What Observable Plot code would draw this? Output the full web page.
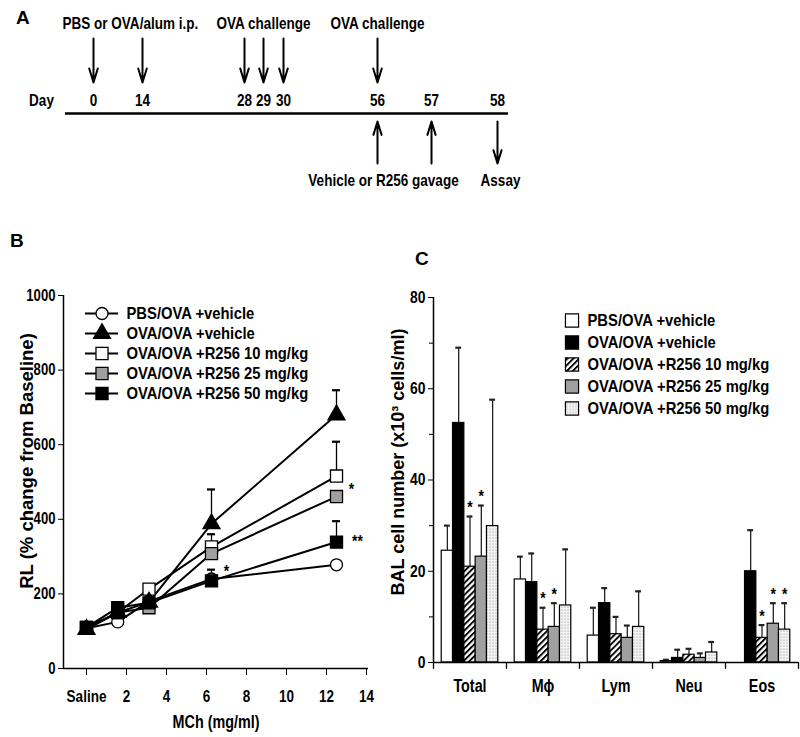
<!DOCTYPE html>
<html><head><meta charset="utf-8">
<script src="https://cdn.jsdelivr.net/npm/d3@7"></script>
<script src="https://cdn.jsdelivr.net/npm/@observablehq/plot@0.6"></script>
<style>
html,body{margin:0;padding:0;background:#fff;}
#fig{position:relative;width:800px;height:737px;overflow:hidden;background:#fff;}
#fig svg{position:absolute;overflow:visible;}
.plab{position:absolute;font:bold 19px "Liberation Sans",Arial,sans-serif;line-height:19px;color:#000;}
</style></head><body>
<div id="fig">
<div class="plab" style="left:16px;top:8px">A</div>
<div class="plab" style="left:10px;top:231px">B</div>
<div class="plab" style="left:415px;top:249px">C</div>
</div>
<script>
// ---------------- data ----------------
// Panel A: protocol timeline
const timelineDays = [0, 14, 28, 29, 30, 56, 57, 58];
const dayLabels = ["0", "14", "28", "29", "30", "56", "57", "58"];
const injectionDays = [0, 14, 28, 29, 30, 56];
const gavageDays = [56, 57];
const assayDays = [58];
const topNotes = ["PBS or OVA/alum i.p.", "OVA challenge", "OVA challenge"];
const topNoteDays = [0, 29, 56];
const bottomNotes = ["Vehicle or R256 gavage", "Assay"];
const bottomNoteDays = [56, 58];

// Panel B: lung resistance vs methacholine
const groups = ["PBS/OVA +vehicle", "OVA/OVA +vehicle", "OVA/OVA +R256 10 mg/kg", "OVA/OVA +R256 25 mg/kg", "OVA/OVA +R256 50 mg/kg"];
const mchDoses = [0, 1.5625, 3.125, 6.25, 12.5];
const mchTicks = [0, 2, 4, 6, 8, 10, 12, 14];
const rlTicks = [0, 200, 400, 600, 800, 1000];
const rlPBS = [108, 125, 180, 240, 278];
const rlOVA = [105, 150, 178, 388, 680];
const rlR10 = [110, 150, 213, 326, 516];
const rlR25 = [108, 150, 163, 308, 461];
const rlR50 = [110, 163, 176, 235, 339];
const semPBS = [0, 0, 0, 0, 0];
const semOVA = [0, 0, 0, 92, 66];
const semR10 = [0, 0, 0, 34, 92];
const semR25 = [0, 0, 0, 20, 0];
const semR50 = [0, 0, 0, 30, 56];
const starsBDose = [6.25, 12.5];
const starsBValue = [271, 490];
const doubleStarDose = [12.5];
const doubleStarValue = [351];

// Panel C: BAL cell counts
const cellTypes = ["Total", "M\u03d5", "Lym", "Neu", "Eos"];
const balTicks = [0, 20, 40, 60, 80];
const balMinorTicks = [10, 30, 50, 70];
const balPBS = [24.5, 18.2, 5.9, 0.3, 0];
const balOVA = [52.5, 17.6, 13.0, 1.0, 20.0];
const balR10 = [21.0, 7.2, 6.2, 1.7, 5.4];
const balR25 = [23.2, 7.8, 5.4, 1.0, 8.5];
const balR50 = [29.9, 12.5, 7.8, 2.2, 7.2];
const errPBS = [5.5, 5.0, 6.1, 0.3, 0];
const errOVA = [16.5, 6.3, 3.3, 1.8, 9.0];
const errR10 = [11.0, 4.8, 3.8, 1.3, 2.8];
const errR25 = [11.2, 5.2, 2.7, 1.0, 4.5];
const errR50 = [27.7, 12.3, 7.8, 2.3, 5.8];
// significant bars: [cell type index, group index]
const starsC = [[0, 2], [0, 3], [1, 2], [1, 3], [4, 2], [4, 3], [4, 4]];

// ---------------- styles ----------------
const NARROW = '"Liberation Sans",Arial,sans-serif';
const REG = '"Liberation Sans", Arial, sans-serif';
const GRAY = "#a0a0a0";
const fig = document.getElementById("fig");
// emulate a narrow bold face: squeeze every text horizontally about its anchor
function condense(svg, k) {
  svg.querySelectorAll("text").forEach(t => {
    const g = t.closest("[font-family]");
    if (g && g.getAttribute("font-family") === REG) return;
    const x = +t.getAttribute("x") || 0;
    const tr = t.getAttribute("transform") || "";
    t.setAttribute("transform", `${tr} translate(${x},0) scale(${k},1) translate(${-x},0)`);
  });
}
function place(node, left, top, k = 0.82) {
  node.style.left = left + "px";
  node.style.top = top + "px";
  fig.appendChild(node);
  condense(node, k);
  return node;
}
const baseStyle = {fontFamily: NARROW, fontWeight: "bold", color: "black", background: "transparent", overflow: "visible"};

// ---------------- Panel A ----------------
const dayPosition = d3.scaleLinear().domain(timelineDays).range([93, 142, 244, 263, 283, 377, 431, 497]);
const arrowOpts = {strokeWidth: 2, headLength: 11, headAngle: 34};
const plotA = Plot.plot({
  width: 800, height: 200,
  marginLeft: 65, marginRight: 292, marginTop: 0, marginBottom: 0,
  x: {transform: dayPosition, domain: [0, 800], range: [0, 800], axis: null},
  y: {domain: [0, 200], range: [0, 200], axis: null},
  style: {...baseStyle, fontSize: "16.5px"},
  marks: [
    Plot.ruleY([113], {strokeWidth: 2.6}),
    Plot.arrow(injectionDays, {x1: d => d, x2: d => d, y1: 38, y2: 82, ...arrowOpts}),
    Plot.arrow(gavageDays, {x1: d => d, x2: d => d, y1: 163, y2: 121, ...arrowOpts}),
    Plot.arrow(assayDays, {x1: d => d, x2: d => d, y1: 121, y2: 163, ...arrowOpts}),
    Plot.text(timelineDays, {x: d => d, y: 100, text: (d, i) => dayLabels[i], fontSize: 16.5}),
    Plot.text(["Day"], {frameAnchor: "left", y: 100, dx: -24, textAnchor: "middle", text: d => d, fontSize: 16.5}),
    Plot.text(topNotes.slice(0, 1), {x: topNoteDays[0], y: 23, text: d => d, textAnchor: "start", dx: -31, fontSize: 16.5}),
    Plot.text(topNotes.slice(1), {x: (d, i) => topNoteDays[i + 1], y: 23, text: d => d, fontSize: 16.5}),
    Plot.text(bottomNotes.slice(0, 1), {x: bottomNoteDays[0], y: 180, text: d => d, dx: 6, fontSize: 16.5}),
    Plot.text(bottomNotes.slice(1), {x: bottomNoteDays[1], y: 180, text: d => d, dx: 3, fontSize: 16.5})
  ]
});
place(plotA, 0, 0);

// ---------------- Panel B ----------------
const rlSeries = [rlPBS, rlOVA, rlR10, rlR25, rlR50];
const semSeries = [semPBS, semOVA, semR10, semR25, semR50];
const rowsB = groups.flatMap((g, i) => mchDoses.map((d, j) => ({group: g, gi: i, dose: d, rl: rlSeries[i][j], sem: semSeries[i][j]})));
const errB = rowsB.filter(d => d.sem > 0);
const markerStyle = [
  {symbol: "circle", fill: "white", r: 6},
  {symbol: "triangle", fill: "black", r: 6.3},
  {symbol: "square", fill: "white", r: 6.8},
  {symbol: "square", fill: GRAY, r: 6.8},
  {symbol: "square", fill: "black", r: 6.8}
];
const drawOrder = [0, 2, 3, 1, 4];
const xDomB = [-1.15, 14.1];
const plotB = Plot.plot({
  width: 400, height: 467,
  marginLeft: 63, marginRight: 32, marginTop: 25, marginBottom: 69,
  x: {domain: xDomB},
  y: {domain: [0, 1000]},
  style: {...baseStyle, fontSize: "16px"},
  marks: [
    Plot.ruleX([xDomB[0]], {strokeWidth: 1.5}),
    Plot.ruleY([0], {strokeWidth: 1.5}),
    Plot.axisY({ticks: rlTicks, tickFormat: d => String(d), tickSize: 5, tickPadding: 3, label: null, fontSize: 16}),
    Plot.axisX({ticks: mchTicks, tickFormat: d => d === 0 ? "Saline" : String(d), tickSize: 7, tickPadding: 15, label: null, fontSize: 16.5}),
    Plot.text(["RL (% change from Baseline)"], {frameAnchor: "left", rotate: -90, dx: -36, dy: -21, textAnchor: "middle", text: d => d, fontSize: 18.5, fontFamily: REG}),
    Plot.text(["MCh (mg/ml)"], {frameAnchor: "bottom", dy: 59, text: d => d, fontSize: 17.5}),
    Plot.line(rowsB, {x: "dose", y: "rl", z: "group", stroke: "black", strokeWidth: 2}),
    Plot.ruleX(errB, {x: "dose", y1: "rl", y2: d => d.rl + d.sem, stroke: "black", strokeWidth: 1.3}),
    Plot.ruleY(errB, {y: d => d.rl + d.sem, x1: d => d.dose - 0.2, x2: d => d.dose + 0.2, stroke: "black", strokeWidth: 2.2}),
    ...drawOrder.map(i => Plot.dot(rowsB.filter(d => d.gi === i), {x: "dose", y: "rl", symbol: markerStyle[i].symbol, r: markerStyle[i].r, fill: markerStyle[i].fill, stroke: "black", strokeWidth: 1.3})),
    Plot.text(starsBDose, {x: d => d, y: (d, i) => starsBValue[i], text: () => "*", dx: 15, dy: 4, fontSize: 17}),
    Plot.text(doubleStarDose, {x: d => d, y: (d, i) => doubleStarValue[i], text: () => "**", dx: 21, dy: 4, fontSize: 17})
  ]
});
place(plotB, 0, 270);

// legend B
const legendB = Plot.plot({
  width: 400, height: 140, margin: 0,
  x: {domain: [0, 1], range: [85, 118], axis: null},
  y: {type: "point", padding: 0, domain: groups, range: [41, 124], axis: null},
  style: {...baseStyle, fontSize: "17px"},
  marks: [
    Plot.ruleY(groups, {y: d => d, x1: 0, x2: 1, stroke: "black", strokeWidth: 2}),
    ...groups.map((g, i) => Plot.dot([g], {x: 0.5, y: d => d, symbol: markerStyle[i].symbol, r: markerStyle[i].r, fill: markerStyle[i].fill, stroke: "black", strokeWidth: 1.3})),
    Plot.text(groups, {x: 1, y: d => d, text: d => d, textAnchor: "start", dx: 8, fontSize: 17})
  ]
});
place(legendB, 0, 270, 0.87);

// ---------------- Panel C ----------------
const balSeries = [balPBS, balOVA, balR10, balR25, balR50];
const errSeries = [errPBS, errOVA, errR10, errR25, errR50];
const BW = 0.155;
const rowsC = cellTypes.flatMap((c, ci) => groups.map((g, gi) => ({
  cell: c, ci, gi, value: balSeries[gi][ci], err: errSeries[gi][ci],
  x1: ci + (gi - 2.5) * BW, x2: ci + (gi - 1.5) * BW, xc: ci + (gi - 2) * BW
})));
const barFill = ["white", "black", "url(#hatchC)", GRAY, "url(#dotsC)"];
const errRows = rowsC.filter(d => d.err > 0);
const starRows = starsC.map(([ci, gi]) => rowsC.find(d => d.ci === ci && d.gi === gi));
const seps = d3.range(-0.5, 5, 1);
const plotC = Plot.plot({
  width: 410, height: 467,
  marginLeft: 43, marginRight: 2, marginTop: 27, marginBottom: 75,
  x: {domain: [-0.5, 4.5]},
  y: {domain: [0, 80]},
  style: {...baseStyle, fontSize: "17px"},
  marks: [
    Plot.ruleX(errRows, {x: "xc", y1: "value", y2: d => d.value + d.err, stroke: "#222", strokeWidth: 1.3}),
    Plot.ruleY(errRows, {y: d => d.value + d.err, x1: d => d.xc - 0.04, x2: d => d.xc + 0.04, stroke: "#222", strokeWidth: 2.2}),
    ...groups.map((g, gi) => Plot.rectY(rowsC.filter(d => d.gi === gi && d.value > 0), {x1: "x1", x2: "x2", y1: 0, y2: "value", fill: barFill[gi], stroke: "black", strokeWidth: 1.2})),
    Plot.ruleX([-0.5], {strokeWidth: 1.5}),
    Plot.ruleY([0], {strokeWidth: 1.5}),
    Plot.ruleX(seps, {x: d => d, y1: 0, y2: -1.5, strokeWidth: 1.3}),
    Plot.axisY({ticks: balTicks, tickSize: 5, tickPadding: 3, label: null, fontSize: 17}),
    Plot.axisY({ticks: balMinorTicks, tickSize: 4, tickFormat: () => "", label: null}),
    Plot.axisX({ticks: [0, 1, 2, 3, 4], tickFormat: i => cellTypes[i], tickSize: 0, tickPadding: 17, label: null, fontSize: 17.5}),
    Plot.text(["BAL cell number (x10\u00b3 cells/ml)"], {frameAnchor: "left", rotate: -90, dx: -35, dy: -18, textAnchor: "middle", text: d => d, fontSize: 18, fontFamily: REG}),
    Plot.text(starRows, {x: "xc", y: d => d.value + d.err, text: () => "*", dy: -9, fontSize: 17})
  ]
});
// patterns
const defs = d3.select(plotC).insert("defs", ":first-child");
const hatch = defs.append("pattern").attr("id", "hatchC").attr("patternUnits", "userSpaceOnUse")
  .attr("width", 4.2).attr("height", 4.2).attr("patternTransform", "rotate(45)");
hatch.append("rect").attr("width", 4.2).attr("height", 4.2).attr("fill", "white");
hatch.append("rect").attr("width", 1.9).attr("height", 4.2).attr("fill", "black");
const dots = defs.append("pattern").attr("id", "dotsC").attr("patternUnits", "userSpaceOnUse")
  .attr("width", 3).attr("height", 3);
dots.append("rect").attr("width", 3).attr("height", 3).attr("fill", "#f3f3f3");
dots.append("circle").attr("cx", 1).attr("cy", 1).attr("r", 0.6).attr("fill", "#888");
place(plotC, 390, 270);

// legend C
const legendC = Plot.plot({
  width: 410, height: 160, margin: 0,
  x: {domain: [0, 1], range: [181.5, 197], axis: null},
  y: {type: "point", padding: 0, domain: groups, range: [49, 139], axis: null},
  style: {...baseStyle, fontSize: "17px"},
  marks: [
    ...groups.map((g, i) => Plot.dot([g], {x: 0, y: d => d, symbol: "square", r: 7.4, fill: barFill[i], stroke: "black", strokeWidth: 1.2})),
    Plot.text(groups, {x: 1, y: d => d, text: d => d, textAnchor: "start", fontSize: 17})
  ]
});
place(legendC, 390, 270, 0.87);
</script>
</body></html>
